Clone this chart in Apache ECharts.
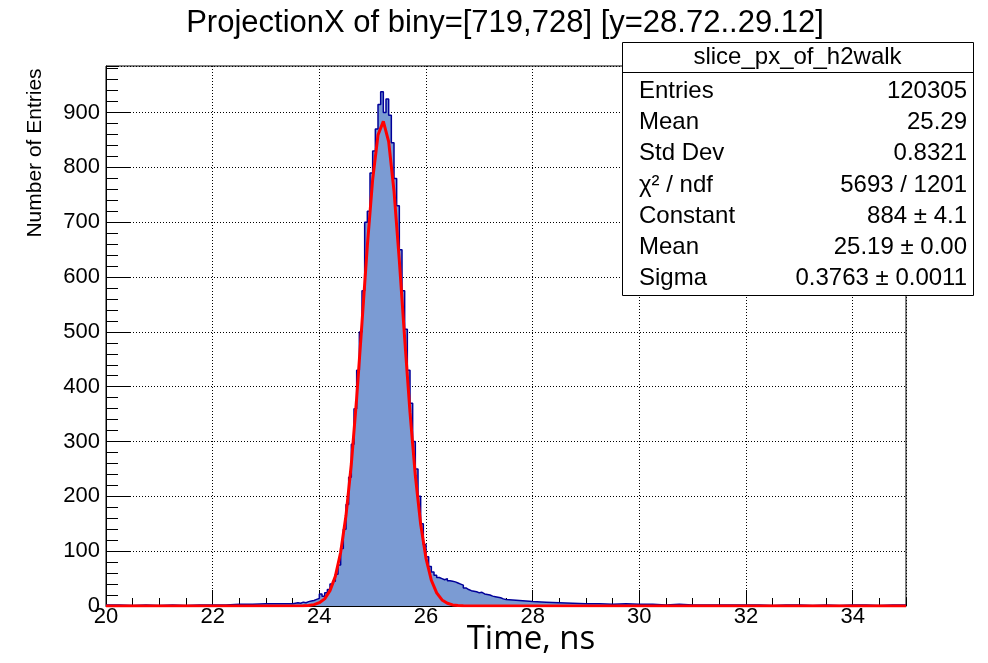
<!DOCTYPE html>
<html><head><meta charset="utf-8">
<script src="https://cdn.jsdelivr.net/npm/echarts@6/dist/echarts.min.js"></script>
<style>html,body{margin:0;padding:0;background:#fff}#c{width:988px;height:663px}</style>
</head><body><div id="c"></div>
<script>
// Histogram bin left edges (ns) and counts
const binEdges = [
 20.00,20.25,20.50,20.75,21.00,21.25,21.50,21.75,22.00,22.25,22.50,22.75,23.00,23.25,
 23.50,23.55,23.60,23.65,23.70,23.75,23.80,23.85,23.90,23.95,
 24.00,24.05,24.10,24.15,24.20,24.25,24.30,24.35,24.40,24.45,
 24.50,24.55,24.60,24.65,24.70,24.75,24.80,24.85,24.90,24.95,
 25.00,25.05,25.10,25.15,25.20,25.25,25.30,25.35,25.40,25.45,
 25.50,25.55,25.60,25.65,25.70,25.75,25.80,25.85,25.90,25.95,
 26.00,26.05,26.10,26.15,26.20,26.25,26.30,26.35,26.40,26.45,
 26.50,26.55,26.60,26.65,26.70,26.75,26.80,26.85,26.90,26.95,
 27.00,27.05,27.10,27.15,27.20,27.25,27.30,27.35,27.40,27.45,
 27.50,27.75,28.00,28.25,28.50,28.75,29.00,29.25,29.50,29.75,
 30.00,30.25,30.50,30.75,31.00,31.25,31.50,31.75,32.00,32.25,
 32.50,32.75,33.00,33.25,33.50,33.75,34.00,34.25,34.50,34.75
];
const binCounts = [
 2,1,2,1,2,1,2,2,2,3,3,4,4,4,
 5,6,5,7,6,8,9,10,12,14,
 22,18,24,30,40,45,58,75,105,140,
 185,235,295,360,430,500,575,700,720,790,
 830,870,915,938,900,925,895,845,780,730,
 650,575,505,430,370,300,250,200,150,112,
 90,72,62,56,52,50,48,50,46,45,
 44,42,40,38,33,30,28,27,26,24,
 25,22,21,20,18,17,16,15,13,12,
 10,8,7,6,5,4,4,3,4,3,
 3,2,3,2,2,2,2,2,2,1,
 2,2,1,2,1,2,2,1,2,2
];
const histEnd = 35;

// Gaussian fit curve (red)
const fitX = [20.0,23.7,23.8,23.9,24.0,24.1,24.2,24.3,24.4,24.5,24.6,24.7,24.8,24.9,25.0,25.1,25.2,25.3,25.4,25.5,25.6,25.7,25.8,25.9,26.0,26.1,26.2,26.3,26.4,26.5,26.6,26.7,35.0];
const fitY = [0,0.3,1,2.5,6,13,28,54,98,165,259,379,517,657,778,859,884,847,757,630,488,353,238,149,87,47,24,11,5,2,1,0.3,0];

const titleText = 'ProjectionX of biny=[719,728] [y=28.72..29.12]';
const xTitle = 'Time, ns';
const yTitle = 'Number of Entries';
const statsName = 'slice_px_of_h2walk';
const statsLabels = ['Entries','Mean','Std Dev','χ² / ndf','Constant','Mean','Sigma'];
const statsValues = ['120305','25.29','0.8321','5693 / 1201','884 ± 4.1','25.19 ± 0.00','0.3763 ± 0.0011'];

const histData = binEdges.map((e, i) => [e, binCounts[i]]);
histData.push([histEnd, binCounts[binCounts.length - 1]]);
const fitData = fitX.map((x, i) => [x, fitY[i]]);

const FONT = 'Liberation Sans, Arial, Helvetica, sans-serif';

function txt(text, x, y, size, align, valign, extra) {
  return Object.assign({
    type: 'text', x: x, y: y, z: 100,
    style: { text: text, fontSize: size, fontFamily: FONT, fill: '#000',
      align: align, textAlign: align, verticalAlign: valign, textVerticalAlign: valign }
  }, extra || {});
}

const box = { left: 622, top: 42, right: 973, bottom: 295, sep: 72 };
const rowY = [91, 122, 153, 185, 216, 247, 278];
const graphics = [
  txt(titleText, 505, 23, 31, 'center', 'middle'),
  txt(yTitle, 35, 153, 21, 'center', 'middle', { rotation: Math.PI / 2 }),
  { type: 'text', x: 531, y: 640, z: 100,
    style: { text: xTitle, fontSize: 33, fontFamily: 'Open Sans, Noto Sans, sans-serif', fill: '#000',
      align: 'center', textAlign: 'center', verticalAlign: 'middle', textVerticalAlign: 'middle' } },
  { type: 'rect', z: 90, shape: { x: box.left + 0.5, y: box.top + 0.5, width: box.right - box.left, height: box.bottom - box.top },
    style: { fill: '#fff', stroke: '#000', lineWidth: 1 } },
  { type: 'line', z: 91, shape: { x1: box.left, y1: box.sep + 0.5, x2: box.right, y2: box.sep + 0.5 },
    style: { stroke: '#000', lineWidth: 1 } },
  txt(statsName, (box.left + box.right) / 2, 57, 24, 'center', 'middle')
];
statsLabels.forEach((l, i) => {
  graphics.push(txt(l, 639, rowY[i], 24, 'left', 'middle'));
  graphics.push(txt(statsValues[i], 967, rowY[i], 24, 'right', 'middle'));
});

const chart = echarts.init(document.getElementById('c'), null, { renderer: 'canvas' });
chart.setOption({
  animation: false,
  backgroundColor: '#fff',
  grid: { left: 106, right: 82, top: 66, bottom: 57, show: true, borderColor: '#000', borderWidth: 1, backgroundColor: 'transparent' },
  xAxis: [
    { type: 'value', min: 20, max: 35, interval: 2, position: 'bottom',
      axisLine: { show: true, lineStyle: { color: '#000', width: 1 } },
      axisTick: { show: true, inside: true, length: 16, lineStyle: { color: '#000', width: 1 } },
      axisLabel: { fontSize: 22, color: '#000', fontFamily: FONT, margin: 0, showMaxLabel: false },
      splitLine: { show: true, lineStyle: { color: '#000', width: 1, type: [1, 2] } } },
    { type: 'value', min: 20, max: 35, interval: 0.5, position: 'bottom', offset: 0,
      axisLine: { show: false }, axisLabel: { show: false }, splitLine: { show: false },
      axisTick: { show: true, inside: true, length: 8, lineStyle: { color: '#000', width: 1 } } }
  ],
  yAxis: [
    { type: 'value', min: 0, max: 985, interval: 100, position: 'left',
      axisLine: { show: true, lineStyle: { color: '#000', width: 1 } },
      axisTick: { show: true, inside: true, length: 24, lineStyle: { color: '#000', width: 1 } },
      axisLabel: { fontSize: 22, color: '#000', fontFamily: FONT, margin: 6, showMaxLabel: false },
      splitLine: { show: true, lineStyle: { color: '#000', width: 1, type: [1, 2] } } },
    { type: 'value', min: 0, max: 985, interval: 20, position: 'left', offset: 0,
      axisLine: { show: false }, axisLabel: { show: false }, splitLine: { show: false },
      axisTick: { show: true, inside: true, length: 12, lineStyle: { color: '#000', width: 1 } } }
  ],
  series: [
    { type: 'line', name: 'hist', step: 'end', data: histData, xAxisIndex: 0, yAxisIndex: 0,
      symbol: 'none', z: 2,
      lineStyle: { color: '#000099', width: 1.5 },
      areaStyle: { color: '#7b9bd3', opacity: 1 } },
    { type: 'line', name: 'fit', data: fitData, xAxisIndex: 0, yAxisIndex: 0,
      symbol: 'none', z: 3, smooth: false,
      lineStyle: { color: '#ff0000', width: 3 } }
  ],
  graphic: graphics
});
</script>
</body></html>
